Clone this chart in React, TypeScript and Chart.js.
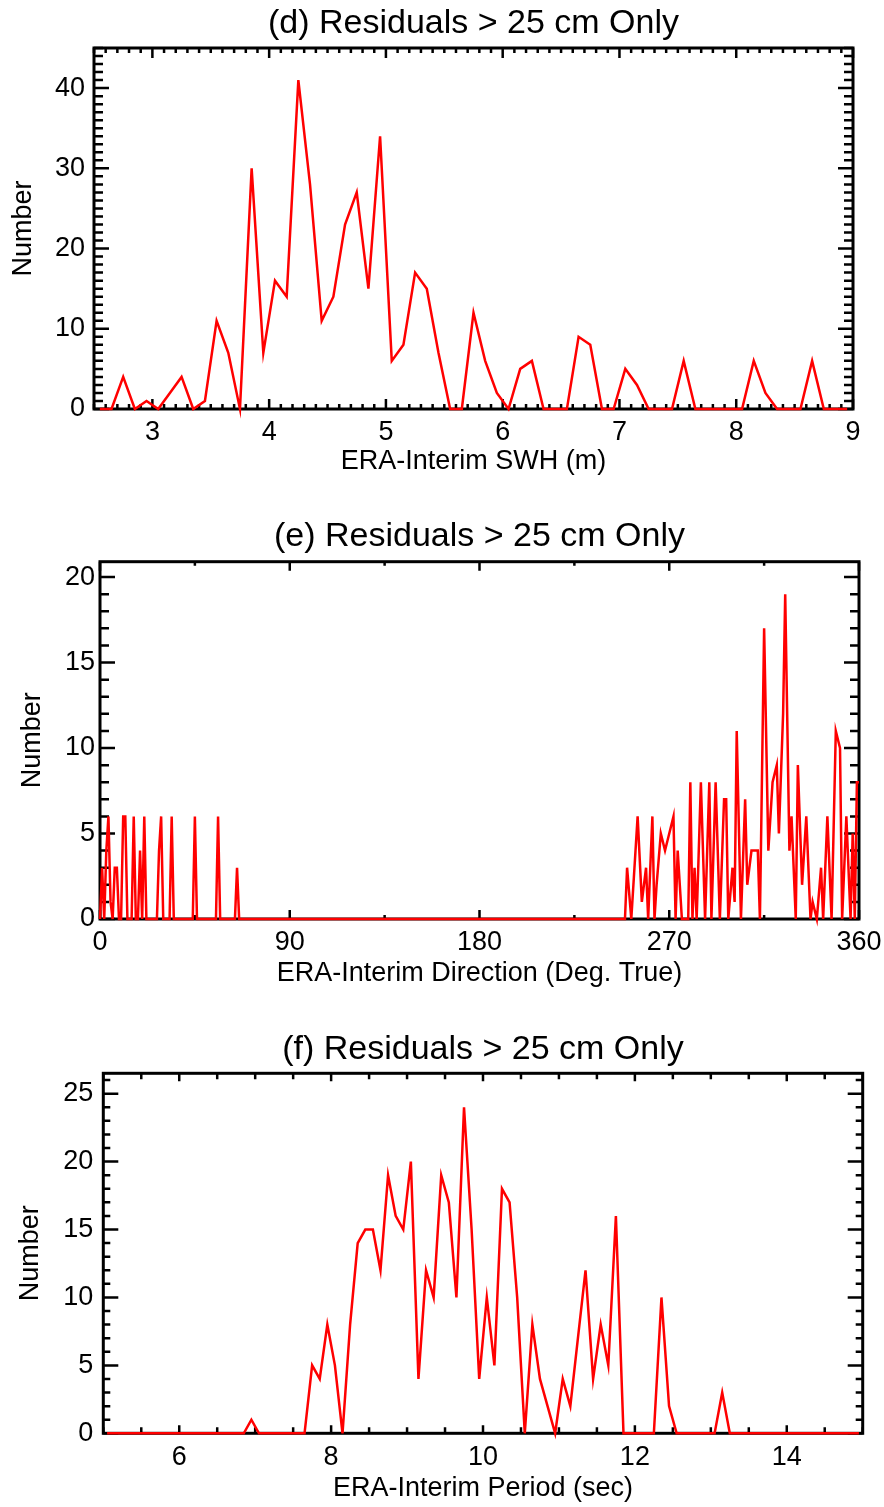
import { useEffect, useRef } from 'react';
import { Chart, registerables } from 'chart.js';

Chart.register(...registerables);

const FONT = '"Liberation Sans", Arial, Helvetica, sans-serif';

// ---------- Panel (d): SWH ----------
const swhX = [
  2.55, 2.65, 2.75, 2.85, 2.95, 3.05, 3.15, 3.25, 3.35, 3.45,
  3.55, 3.65, 3.75, 3.85, 3.95, 4.05, 4.15, 4.25, 4.35, 4.45,
  4.55, 4.65, 4.75, 4.85, 4.95, 5.05, 5.15, 5.25, 5.35, 5.45,
  5.55, 5.65, 5.75, 5.85, 5.95, 6.05, 6.15, 6.25, 6.35, 6.45,
  6.55, 6.65, 6.75, 6.85, 6.95, 7.05, 7.15, 7.25, 7.35, 7.45,
  7.55, 7.65, 7.75, 7.85, 7.95, 8.05, 8.15, 8.25, 8.35, 8.45,
  8.55, 8.65, 8.75, 8.85, 8.95,
];
const swhCount = [
  0, 0, 4, 0, 1, 0, 2, 4, 0, 1,
  11, 7, 0, 30, 7, 16, 14, 41, 28, 11,
  14, 23, 27, 15, 34, 6, 8, 17, 15, 7,
  0, 0, 12, 6, 2, 0, 5, 6, 0, 0,
  0, 9, 8, 0, 0, 5, 3, 0, 0, 0,
  6, 0, 0, 0, 0, 0, 6, 2, 0, 0,
  0, 6, 0, 0, 0,
];
const swhXTicks = [3, 4, 5, 6, 7, 8, 9];
const swhYTicks = [0, 10, 20, 30, 40];

// ---------- Panel (e): Direction ----------
const dirDeg = [
  0, 1, 2, 3, 4, 5, 6, 7, 8, 9, 10, 11, 12, 13, 15, 16, 17, 18, 19, 20, 21, 22,
  27, 28, 29, 30, 33, 34, 35, 44, 45, 46, 55, 56, 57, 64, 65, 66,
  249, 250, 252, 255, 257, 259, 260, 262, 263, 264, 266, 268, 270, 272, 273, 274, 276,
  279, 280, 281, 282, 283, 285, 287, 289, 290, 292, 294, 296, 297, 298, 300, 301, 302,
  304, 306, 307, 309, 311, 312, 313, 315, 317, 319, 321, 322, 324, 325, 327, 328, 330,
  331, 333, 335, 337, 338, 340, 342, 343, 345, 347, 349, 351, 352, 354, 356, 357, 358,
  359, 360,
];
const dirCount = [
  0, 3, 0, 4, 6, 1, 0, 3, 3, 0, 0, 6, 6, 0, 0, 6, 0, 0, 4, 0, 6, 0,
  0, 4, 6, 0, 0, 6, 0, 0, 6, 0, 0, 6, 0, 0, 3, 0,
  0, 3, 0, 6, 1, 3, 0, 6, 0, 2, 5, 4, 5, 6, 0, 4, 0,
  0, 8, 0, 3, 0, 8, 0, 8, 0, 8, 0, 7, 7, 0, 3, 1, 11,
  0, 7, 2, 4, 4, 4, 0, 17, 4, 8, 9, 5, 12, 19, 4, 6, 0,
  9, 2, 6, 0, 1, 0, 3, 0, 6, 0, 11, 10, 0, 6, 0, 5, 0,
  8, 8,
];
const dirXTicks = [0, 90, 180, 270, 360];
const dirYTicks = [0, 5, 10, 15, 20];

// ---------- Panel (f): Period ----------
const perX = [
  5.05, 6.85, 6.95, 7.05, 7.65, 7.75, 7.85, 7.95, 8.05, 8.15,
  8.25, 8.35, 8.45, 8.55, 8.65, 8.75, 8.85, 8.95, 9.05, 9.15,
  9.25, 9.35, 9.45, 9.55, 9.65, 9.75, 9.85, 9.95, 10.05, 10.15,
  10.25, 10.35, 10.45, 10.55, 10.65, 10.75, 10.85, 10.95, 11.05, 11.15,
  11.25, 11.35, 11.45, 11.55, 11.65, 11.75, 11.85, 12.25, 12.35, 12.45,
  12.55, 13.05, 13.15, 13.25, 14.95,
];
const perCount = [
  0, 0, 1, 0, 0, 5, 4, 8, 5, 0,
  8, 14, 15, 15, 12, 19, 16, 15, 20, 4,
  12, 10, 19, 17, 10, 24, 15, 4, 10, 5,
  18, 17, 10, 0, 8, 4, 2, 0, 4, 2,
  7, 12, 4, 8, 5, 16, 0, 0, 10, 2,
  0, 0, 3, 0, 0,
];
const perXTicks = [6, 8, 10, 12, 14];
const perYTicks = [0, 5, 10, 15, 20, 25];

const panelTitles = [
  '(d) Residuals > 25 cm Only',
  '(e) Residuals > 25 cm Only',
  '(f) Residuals > 25 cm Only',
];
const xTitles = [
  'ERA-Interim SWH (m)',
  'ERA-Interim Direction (Deg. True)',
  'ERA-Interim Period (sec)',
];
const yTitle = 'Number';

type P = {
  top: number; height: number; xs: number[]; ys: number[];
  title: string; xTitle: string;
  xMin: number; xMax: number; yMin: number; yMax: number;
  xTicks: number[]; yTicks: number[]; xMinor: number; yMinor: number;
  yAxisW: number; xAxisH: number; padRight: number;
  titleTop: number; titleBottom: number; yTitleTop: number;
  yTickGap: number; xTickGap: number; xTitleBottom: number;
  xMajorLen: number; xMinorLen: number; yMajorLen: number; yMinorLen: number;
};

const panels: P[] = [
  {
    top: 0, height: 490, xs: swhX, ys: swhCount, title: panelTitles[0], xTitle: xTitles[0],
    xMin: 2.5, xMax: 9, yMin: 0, yMax: 45, xTicks: swhXTicks, yTicks: swhYTicks, xMinor: 0.1, yMinor: 1,
    yAxisW: 94, xAxisH: 81, padRight: 31, titleTop: 3.6, titleBottom: 3.6, yTitleTop: 7,
    yTickGap: 9, xTickGap: 7.3, xTitleBottom: 12,
    xMajorLen: 10, xMinorLen: 5, yMajorLen: 15, yMinorLen: 9,
  },
  {
    top: 495, height: 505, xs: dirDeg, ys: dirCount, title: panelTitles[1], xTitle: xTitles[1],
    xMin: 0, xMax: 360, yMin: 0, yMax: 20.9, xTicks: dirXTicks, yTicks: dirYTicks, xMinor: 45, yMinor: 1,
    yAxisW: 100, xAxisH: 81, padRight: 25, titleTop: 21.6, titleBottom: 4.3, yTitleTop: 16,
    yTickGap: 5, xTickGap: 7.8, xTitleBottom: 9.8,
    xMajorLen: 9, xMinorLen: 4, yMajorLen: 15, yMinorLen: 9,
  },
  {
    top: 1000, height: 507, xs: perX, ys: perCount, title: panelTitles[2], xTitle: xTitles[2],
    xMin: 5, xMax: 15, yMin: 0, yMax: 26.5, xTicks: perXTicks, yTicks: perYTicks, xMinor: 0.5, yMinor: 1,
    yAxisW: 103.3, xAxisH: 73.7, padRight: 21.3, titleTop: 29.6, titleBottom: 2.9, yTitleTop: 14,
    yTickGap: 10, xTickGap: 8.5, xTitleBottom: 1.8,
    xMajorLen: 8, xMinorLen: 6, yMajorLen: 15, yMinorLen: 7,
  },
];

function seq(min: number, max: number, step: number): number[] {
  const out: number[] = [];
  const k0 = Math.ceil(min / step - 1e-6);
  const k1 = Math.floor(max / step + 1e-6);
  for (let k = k0; k <= k1; k++) out.push(+(k * step).toFixed(6));
  return out;
}

function makeFrame(p: P) {
  return {
    id: 'frame',
    beforeDatasetsDraw(chart: any) {
      const { ctx, chartArea: a } = chart;
      const xs = chart.scales.x;
      const ys = chart.scales.y;
      ctx.save();
      ctx.strokeStyle = '#000';
      ctx.lineCap = 'butt';
      ctx.lineWidth = 2.5;
      ctx.beginPath();
      for (const v of seq(p.xMin, p.xMax, p.xMinor)) {
        const major = p.xTicks.some((t) => Math.abs(t - v) < 1e-6);
        const len = major ? p.xMajorLen : p.xMinorLen;
        const px = xs.getPixelForValue(v);
        ctx.moveTo(px, a.bottom);
        ctx.lineTo(px, a.bottom - len);
        ctx.moveTo(px, a.top);
        ctx.lineTo(px, a.top + len);
      }
      for (const v of seq(p.yMin, p.yMax, p.yMinor)) {
        const major = p.yTicks.some((t) => Math.abs(t - v) < 1e-6);
        const len = major ? p.yMajorLen : p.yMinorLen;
        const py = ys.getPixelForValue(v);
        ctx.moveTo(a.left, py);
        ctx.lineTo(a.left + len, py);
        ctx.moveTo(a.right, py);
        ctx.lineTo(a.right - len, py);
      }
      ctx.stroke();
      ctx.lineWidth = 3;
      ctx.strokeRect(a.left, a.top, a.right - a.left, a.bottom - a.top);
      ctx.restore();
    },
  };
}

function makeConfig(p: P): any {
  const tickFont = { family: FONT, size: 27, weight: 'normal' as const, lineHeight: 1.2 };
  return {
    type: 'line',
    data: {
      datasets: [
        {
          data: p.xs.map((x, i) => ({ x, y: p.ys[i] })),
          borderColor: '#ff0000',
          backgroundColor: '#ff0000',
          borderWidth: 2.5,
          pointRadius: 0,
          tension: 0,
          fill: false,
          clip: false,
        },
      ],
    },
    options: {
      animation: false,
      responsive: false,
      events: [],
      layout: { padding: { left: 0, top: 0, right: p.padRight, bottom: 0 } },
      plugins: {
        legend: { display: false },
        tooltip: { enabled: false },
        title: {
          display: true,
          text: p.title,
          fullSize: false,
          color: '#000',
          font: { family: FONT, size: 34, weight: 'normal', lineHeight: 1.2 },
          padding: { top: p.titleTop, bottom: p.titleBottom },
        },
      },
      scales: {
        x: {
          type: 'linear',
          min: p.xMin,
          max: p.xMax,
          afterBuildTicks: (s: any) => {
            s.ticks = p.xTicks.map((v) => ({ value: v }));
          },
          afterFit: (s: any) => {
            s.height = p.xAxisH;
          },
          grid: { display: false, drawTicks: true, tickLength: p.xTickGap },
          border: { display: false },
          ticks: {
            padding: 0,
            autoSkip: false,
            maxRotation: 0,
            minRotation: 0,
            color: '#000',
            font: tickFont,
            callback: (v: any) => String(v),
          },
          title: {
            display: true,
            text: p.xTitle,
            color: '#000',
            font: tickFont,
            padding: { top: 0, bottom: p.xTitleBottom },
          },
        },
        y: {
          type: 'linear',
          min: p.yMin,
          max: p.yMax,
          afterBuildTicks: (s: any) => {
            s.ticks = p.yTicks.map((v) => ({ value: v }));
          },
          afterFit: (s: any) => {
            s.width = p.yAxisW;
          },
          grid: { display: false, drawTicks: true, tickLength: p.yTickGap },
          border: { display: false },
          ticks: {
            padding: 0,
            autoSkip: false,
            color: '#000',
            font: tickFont,
            callback: (v: any) => String(v),
          },
          title: {
            display: true,
            text: yTitle,
            color: '#000',
            font: tickFont,
            padding: { top: p.yTitleTop, bottom: 0 },
          },
        },
      },
    },
    plugins: [makeFrame(p)],
  };
}

function Panel({ p }: { p: P }) {
  const ref = useRef<HTMLCanvasElement | null>(null);
  useEffect(() => {
    if (!ref.current) return;
    const chart = new Chart(ref.current, makeConfig(p));
    return () => chart.destroy();
  }, [p]);
  return (
    <canvas
      ref={ref}
      width={884}
      height={p.height}
      style={{ position: 'absolute', left: 0, top: p.top, width: 884, height: p.height }}
    />
  );
}

export default function App() {
  return (
    <div style={{ position: 'absolute', left: 0, top: 0, width: 884, height: 1507, background: '#fff', overflow: 'hidden' }}>
      {panels.map((p, i) => (
        <Panel key={i} p={p} />
      ))}
    </div>
  );
}
